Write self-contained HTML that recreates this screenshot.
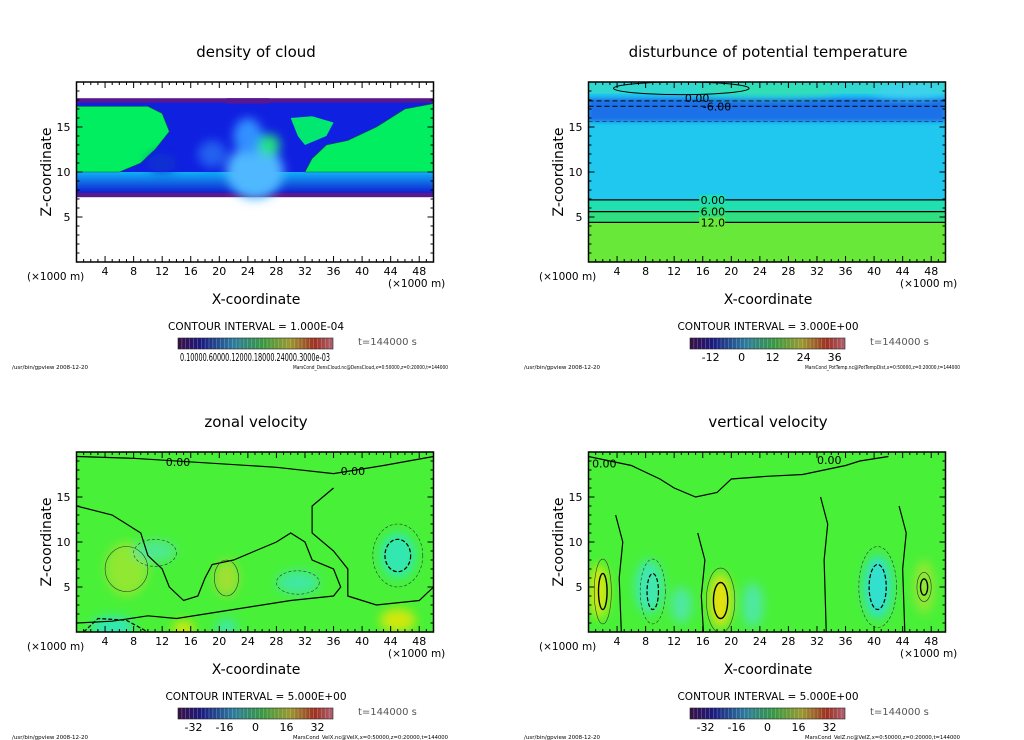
<!DOCTYPE html>
<html><head><meta charset="utf-8"><style>
html,body{margin:0;padding:0;background:#fff;}
svg{display:block;font-family:"DejaVu Sans","Liberation Sans",sans-serif;}
</style></head><body>
<svg id="s" width="1024" height="740" viewBox="0 0 1024 740" xmlns="http://www.w3.org/2000/svg">
<defs>
<linearGradient id="cb" x1="0" x2="1" y1="0" y2="0">
<stop offset="0" stop-color="#3a1048"/><stop offset="0.15" stop-color="#1a1a80"/><stop offset="0.35" stop-color="#2a7aa0"/><stop offset="0.55" stop-color="#3a9a40"/><stop offset="0.72" stop-color="#9a9a30"/><stop offset="0.88" stop-color="#a03020"/><stop offset="1" stop-color="#b06070"/>
</linearGradient>
<linearGradient id="cyb" x1="0" x2="0" y1="0" y2="1">
<stop offset="0" stop-color="#10b0f8"/><stop offset="1" stop-color="#1020d0"/>
</linearGradient>
<filter id="bl" x="-30%" y="-30%" width="160%" height="160%"><feGaussianBlur stdDeviation="5"/></filter>
<filter id="bl2" x="-20%" y="-20%" width="140%" height="140%"><feGaussianBlur stdDeviation="2"/></filter>
<clipPath id="c0"><rect x="77" y="82" width="357" height="180"/></clipPath>
<clipPath id="c1"><rect x="589" y="82" width="357" height="180"/></clipPath>
<clipPath id="c2"><rect x="77" y="452" width="357" height="180"/></clipPath>
<clipPath id="c3"><rect x="589" y="452" width="357" height="180"/></clipPath>
</defs>
<g id="root"></g>
</svg>
<script>
const NS="http://www.w3.org/2000/svg";
const root=document.getElementById('root');
const titles=["density of cloud","disturbunce of potential temperature","zonal velocity","vertical velocity"];
const xTicks=[4,8,12,16,20,24,28,32,36,40,44,48];
const zTicks=[5,10,15];
const intervals=["1.000E-04","3.000E+00","5.000E+00","5.000E+00"];
const cbLabels=[["0.10000.60000.12000.18000.24000.3000e-03"],["-12","0","12","24","36"],["-32","-16","0","16","32"],["-32","-16","0","16","32"]];
const cbValues=[[0],[-12,0,12,24,36],[-32,-16,0,16,32],[-32,-16,0,16,32]];
const cbRange=[[0,1],[-20,40],[-40,40],[-40,40]];
const footR=["MarsCond_DensCloud.nc@DensCloud,x=0:50000,z=0:20000,t=144000","MarsCond_PotTemp.nc@PotTempDist,x=0:50000,z=0:20000,t=144000","MarsCond_VelX.nc@VelX,x=0:50000,z=0:20000,t=144000","MarsCond_VelZ.nc@VelZ,x=0:50000,z=0:20000,t=144000"];
// blobs: [x(km), z(km), rx, rz, color]
const blobs0=[[25,10,4,3,"#50b8ff"],[24,14,2,2,"#3090ff"],[27,13,1.5,1.2,"#20e080"],[19,12,2,1.5,"#2060f0"],[12,11,2,1,"#1030d0"]];
const blobs1=[[25,19.2,10,0.8,"#30e0b0"],[45,19,5,0.8,"#40d0f0"]];
const blobs2=[[7,7,3,3,"#90e830"],[21,6,1.7,2,"#a0e030"],[45,8.5,2.5,2.5,"#30e8b0"],[31,5.5,3,1.3,"#40e8a0"],[5,0.5,3,1.3,"#30e8b0"],[15,0.3,1.5,1,"#d0e810"],[45,1.3,2.5,1.3,"#d0e810"],[11,9,3,1.2,"#50e890"],[21,0.5,1.5,1,"#40e8a0"]];
const blobs3=[[1.5,4.5,1.3,3,"#d8e810"],[18.5,3.5,1.5,3,"#e8e010"],[8.5,5,2,3,"#40e8b0"],[40.5,5,2,3.5,"#30e0d0"],[47,5,1.5,3,"#90e830"],[23,3,1.5,2.5,"#50e8a0"],[13,3,1.5,2,"#50e8a0"]];
const blobsAll=[blobs0,blobs1,blobs2,blobs3];
const bgs=["#fff","#20c8f0","#48f038","#48f038"];

function el(tag,attrs,parent,txt){const e=document.createElementNS(NS,tag);for(const k in attrs)e.setAttribute(k,attrs[k]);if(txt!==undefined)e.textContent=txt;(parent||root).appendChild(e);return e;}

for(let p=0;p<4;p++){
 const ox=(p%2)*512, oy=Math.floor(p/2)*370;
 const x0=76.5+ox, xsc=7.14, yb=262+oy, ysc=9;
 const X=v=>x0+v*xsc, Z=v=>yb-v*ysc;
 const path=(pts)=>'M'+pts.map(q=>X(q[0])+','+Z(q[1])).join(' L');
 const g=el('g',{});
 
 
 const t=el('text',{x:256+ox,y:57+oy,'font-size':15,'text-anchor':'middle'},g,titles[p]);
 
 const f=el('g',{'clip-path':'url(#c'+p+')'},g);
 
 el('rect',{x:X(0),y:Z(20),width:50*xsc,height:20*ysc,fill:bgs[p]},f);
 if(p===0){
  el('rect',{x:X(0),y:Z(18.2),width:50*xsc,height:11*ysc,fill:"#5a1890"},f);
  el('rect',{x:X(0),y:Z(17.7),width:50*xsc,height:10*ysc,fill:"#1020e0"},f);
  el('rect',{x:X(0),y:Z(10),width:50*xsc,height:2.3*ysc,fill:"url(#cyb)"},f);
  el('path',{d:path([[0,17.3],[10,17.3],[12,16.5],[13,14.5],[11,12.5],[9,11],[6,10],[0,10]]),fill:"#00ee60",stroke:"#205040","stroke-width":0.6},f);
  el('path',{d:path([[50,17.6],[46,17],[42,15],[38,13.5],[35,13],[33,11.5],[32,10],[50,10]]),fill:"#00ee60",stroke:"#205040","stroke-width":0.6},f);
  el('path',{d:path([[30,16],[33,16.2],[36,15.5],[35,14],[32,13],[31,14]]),fill:"#00e870"},f);
  el('rect',{x:X(21),y:Z(18.2),width:6*xsc,height:0.6*ysc,fill:"#5a1890"},f);
 }
 if(p===1){
  el('rect',{x:X(0),y:Z(18.2),width:50*xsc,height:2.6*ysc,fill:"#1a70e8",filter:"url(#bl2)"},f);
  el('rect',{x:X(0),y:Z(20),width:50*xsc,height:1.3*ysc,fill:"#30d8d0"},f);
  el('rect',{x:X(0),y:Z(6.9),width:50*xsc,height:1.3*ysc,fill:"#20e0b0"},f);
  el('rect',{x:X(0),y:Z(5.6),width:50*xsc,height:1.2*ysc,fill:"#30e080"},f);
  el('rect',{x:X(0),y:Z(4.4),width:50*xsc,height:4.4*ysc,fill:"#68e838"},f);
  [6.9,5.6,4.4].forEach((z,i)=>{el('line',{x1:X(0),x2:X(50),y1:Z(z),y2:Z(z),stroke:"#000","stroke-width":1.2},f);
   el('rect',{x:X(15.5),y:Z(z)-5,width:26,height:10,fill:["#20e0b0","#30e080","#68e838"][i]},f);
   el('text',{x:X(15.7),y:Z(z)+4,'font-size':11},f,["0.00","6.00","12.0"][i]);});
  [17.9,17.3].forEach(z=>el('line',{x1:X(0),x2:X(50),y1:Z(z),y2:Z(z),stroke:"#000","stroke-dasharray":"5,3"},f));
  el('line',{x1:X(0),x2:X(50),y1:Z(15.6),y2:Z(15.6),stroke:"#000","stroke-width":0.5,"stroke-dasharray":"4,3"},f);
  el('text',{x:X(16),y:Z(17.3)+4,'font-size':11},f,"-6.00");
 }
 const bg=el('g',{filter:"url(#bl)"},f);
 blobsAll[p].forEach(b=>{const e=el('ellipse',{cx:X(b[0]),cy:Z(b[1]),rx:b[2]*xsc,ry:b[3]*ysc,fill:b[4]},bg);
  });
 if(p===1){
  el('ellipse',{cx:X(13),cy:Z(19.3),rx:9.5*xsc,ry:0.7*ysc,fill:"none",stroke:"#000"},f);
  el('text',{x:X(13.5),y:Z(18.2)+4,'font-size':11},f,"0.00");
 }
 if(p===2){
  el('path',{d:path([[0,19.5],[8,19.3],[18,18.8],[28,18.3],[36,17.6],[43,18.5],[50,19.5]]),fill:"none",stroke:"#000","stroke-width":1.2},f);
  el('path',{d:path([[0,14],[5,13],[9,11],[10,8.5],[12,7],[13,5],[15,3.5],[17,4],[18,6],[19,7.5],[22,8],[25,9],[28,10],[30,11],[32,10],[33,8],[36,7],[37,5],[36,4],[30,3.5],[26,3],[22,2.5],[18,2],[14,1.5],[10,1.8],[5,1.2],[0,1]]),fill:"none",stroke:"#000","stroke-width":1.2},f);
  el('path',{d:path([[36,16],[33,14],[33,11],[36,9],[38,7],[38,4],[42,3],[48,3.5],[50,5]]),fill:"none",stroke:"#000","stroke-width":1.2},f);
  el('path',{d:path([[1,0],[3,1.5],[7,1.3],[10,0]]),fill:"none",stroke:"#000","stroke-width":1.2,"stroke-dasharray":"4,2"},f);
  el('ellipse',{cx:X(45),cy:Z(8.5),rx:1.8*xsc,ry:1.8*ysc,fill:"none",stroke:"#000","stroke-dasharray":"4,2","stroke-width":1.2},f);
  el('ellipse',{cx:X(45),cy:Z(8.5),rx:3.5*xsc,ry:3.5*ysc,fill:"none",stroke:"#333","stroke-dasharray":"3,2","stroke-width":0.6},f);
  el('ellipse',{cx:X(11),cy:Z(8.8),rx:3*xsc,ry:1.5*ysc,fill:"none",stroke:"#333","stroke-dasharray":"3,2","stroke-width":0.6},f);
  el('ellipse',{cx:X(7),cy:Z(7),rx:3*xsc,ry:2.5*ysc,fill:"none",stroke:"#333","stroke-width":0.6},f);
  el('ellipse',{cx:X(21),cy:Z(6),rx:1.7*xsc,ry:2*ysc,fill:"none",stroke:"#333","stroke-width":0.6},f);
  el('ellipse',{cx:X(31),cy:Z(5.5),rx:3*xsc,ry:1.3*ysc,fill:"none",stroke:"#333","stroke-dasharray":"3,2","stroke-width":0.6},f);
  el('text',{x:X(12.5),y:Z(18.9)+4,'font-size':11},f,"0.00");
  el('text',{x:X(37),y:Z(17.9)+4,'font-size':11},f,"0.00");
 }
 if(p===3){
  el('path',{d:path([[0,19.5],[6,18.5],[10,17],[12,16],[15,15],[18,15.5],[20,17],[25,17.3],[30,17.5],[33,18],[36,18.5],[38,19],[42,19.5]]),fill:"none",stroke:"#000","stroke-width":1.2},f);
  [[4.3,0,13],[15.8,0,11],[33,0,15],[44,0,14]].forEach(c=>el('path',{d:path([[c[0]-0.5,c[2]],[c[0]+0.5,c[2]-3],[c[0],c[2]-7],[c[0]+0.3,c[1]]]),fill:"none",stroke:"#000","stroke-width":1.2},f));
  [[2,4.5,0.6,2],[18.5,3.5,1,2],[47,5,0.5,0.9]].forEach(c=>{el('ellipse',{cx:X(c[0]),cy:Z(c[1]),rx:c[2]*xsc,ry:c[3]*ysc,fill:"none",stroke:"#000","stroke-width":1.4},f);
   el('ellipse',{cx:X(c[0]),cy:Z(c[1]),rx:c[2]*2*xsc,ry:c[3]*1.8*ysc,fill:"none",stroke:"#333","stroke-width":0.6},f);});
  [[9,4.5,0.8,2],[40.5,5,1.2,2.5]].forEach(c=>{el('ellipse',{cx:X(c[0]),cy:Z(c[1]),rx:c[2]*xsc,ry:c[3]*ysc,fill:"none",stroke:"#000","stroke-width":1.2,"stroke-dasharray":"4,2"},f);
   el('ellipse',{cx:X(c[0]),cy:Z(c[1]),rx:c[2]*2.2*xsc,ry:c[3]*1.8*ysc,fill:"none",stroke:"#333","stroke-width":0.6,"stroke-dasharray":"3,2"},f);});
  el('text',{x:X(0.5),y:Z(18.7)+4,'font-size':11},f,"0.00");
  el('text',{x:X(32),y:Z(19.1)+4,'font-size':11},f,"0.00");
 }
 const fr=el('rect',{x:X(0),y:Z(20),width:50*xsc,height:20*ysc,fill:"none",stroke:"#000","stroke-width":1.5},g);
 
 for(let v=1;v<50;v++){const L=v%4===0?6:3;
  el('line',{x1:X(v),x2:X(v),y1:Z(0),y2:Z(0)-L,stroke:"#000"},g);
  el('line',{x1:X(v),x2:X(v),y1:Z(20),y2:Z(20)+L,stroke:"#000"},g);}
 for(let v=1;v<20;v++){const L=v%5===0?6:3;
  el('line',{x1:X(0),x2:X(0)+L,y1:Z(v),y2:Z(v),stroke:"#000"},g);
  el('line',{x1:X(50),x2:X(50)-L,y1:Z(v),y2:Z(v),stroke:"#000"},g);}
 xTicks.forEach(v=>{const e=el('text',{x:X(v),y:yb+13,'font-size':11,'text-anchor':'middle'},g,v);
  });
 zTicks.forEach(v=>{const e=el('text',{x:X(0)-6,y:Z(v)+4,'font-size':11,'text-anchor':'end'},g,v);
  });
 el('text',{x:27+ox,y:280+oy,'font-size':10.5},g,"(×1000 m)");
 el('text',{x:388+ox,y:287+oy,'font-size':10.5},g,"(×1000 m)");
 const xl=el('text',{x:256+ox,y:304+oy,'font-size':14,'text-anchor':'middle'},g,"X-coordinate");
 
 const yl=el('text',{x:0,y:0,'font-size':14,'text-anchor':'middle',transform:`translate(${51+ox},${172+oy}) rotate(-90)`},g,"Z-coordinate");
 
 el('text',{x:256+ox,y:330+oy,'font-size':10.5,'text-anchor':'middle'},g,"CONTOUR INTERVAL = "+intervals[p]);
 const cbx=178+ox, cbw=155;
 const cb=el('rect',{x:cbx,y:338+oy,width:cbw,height:11,fill:"url(#cb)"},g);
 
 for(let i=1;i<40;i++)el('line',{x1:cbx+i*cbw/40,x2:cbx+i*cbw/40,y1:338+oy,y2:349+oy,stroke:"#ddd","stroke-width":0.4,opacity:0.6},g);
 el('rect',{x:cbx,y:338+oy,width:cbw,height:11,fill:"none",stroke:"#222","stroke-width":0.6},g);
 if(p===0){el('text',{x:255,y:361,'font-size':11,'text-anchor':'middle',textLength:150,lengthAdjust:"spacingAndGlyphs"},g,cbLabels[0][0]);}
 else{const r=cbRange[p];cbValues[p].forEach((v,i)=>{const e=el('text',{x:cbx+(v-r[0])/(r[1]-r[0])*cbw,y:361+oy,'font-size':11,'text-anchor':'middle'},g,cbLabels[p][i]);
  });}
 el('text',{x:358+ox,y:345+oy,'font-size':10,fill:"#555"},g,"t=144000 s");
 el('text',{x:12+ox,y:369+oy,'font-size':5.5},g,"/usr/bin/gpview    2008-12-20");
 el('text',{x:293+ox,y:369+oy,'font-size':5,textLength:155,lengthAdjust:"spacingAndGlyphs"},g,footR[p]);
}
</script>
</body></html>
